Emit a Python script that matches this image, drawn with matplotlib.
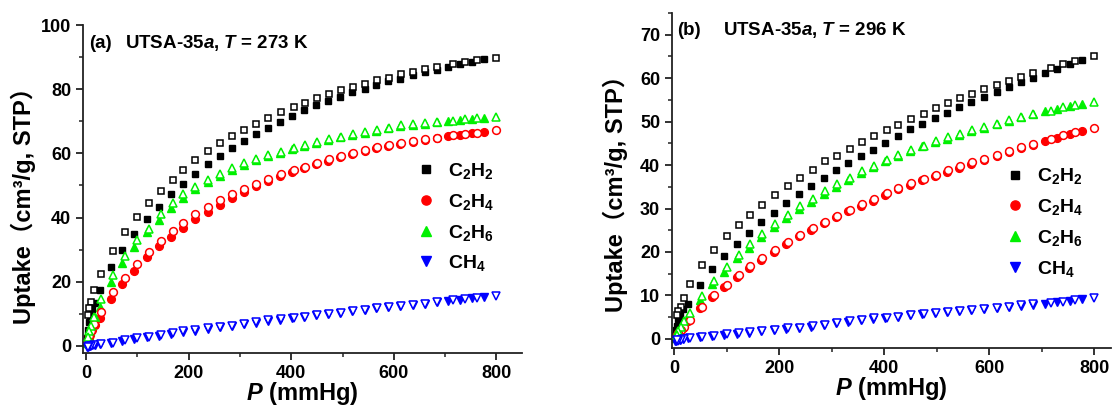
import matplotlib
matplotlib.use('Agg')
import matplotlib.pyplot as plt
from matplotlib.ticker import MultipleLocator
from matplotlib.lines import Line2D

plt.rcParams['font.family'] = ['Liberation Sans', 'Noto Sans CJK SC', 'DejaVu Sans']
plt.rcParams['font.weight'] = 'bold'
plt.rcParams['mathtext.fontset'] = 'custom'
plt.rcParams['mathtext.rm'] = 'Liberation Sans:bold'
plt.rcParams['mathtext.it'] = 'Liberation Sans:bold:italic'
plt.rcParams['mathtext.bf'] = 'Liberation Sans:bold'
plt.rcParams['mathtext.default'] = 'rm'

# ---------------- data: panel (a), 273 K ----------------
p_ads_a = [1, 3, 5, 8, 12, 17, 27, 49, 71, 94, 118, 142, 166, 189, 212, 237, 261, 285, 308,
           332, 355, 378, 402, 425, 449, 472, 496, 519, 543, 566, 589, 613, 637, 660, 684,
           706, 730, 752, 776]
p_des_a = [800, 762, 739, 716, 684, 661, 637, 614, 590, 567, 543, 520, 497, 473, 450, 427,
           405, 381, 355, 332, 308, 285, 261, 237, 212, 189, 170, 146, 123, 99, 76, 53, 29,
           16, 10, 6.5, 3.3]

c2h2_ads_a = [2.5, 5, 7.5, 9.5, 11.5, 13.5, 17.3, 24.5, 30, 35, 39.7, 43.3, 47.2, 50.5, 53.6,
              56.6, 59.2, 61.6, 63.8, 66.1, 68, 69.9, 71.7, 73.4, 75, 76.3, 77.7, 79, 80.2,
              81.3, 82.4, 83.3, 84.4, 85.2, 86, 87, 87.8, 88.5, 89.3]
c2h2_des_a = [89.8, 89.0, 88.4, 87.8, 86.9, 86.2, 85.4, 84.6, 83.6, 82.8, 81.7, 80.7, 79.7,
              78.4, 77.2, 75.8, 74.5, 72.9, 71.1, 69.3, 67.3, 65.4, 63.1, 60.7, 57.8, 54.7,
              51.8, 48.4, 44.6, 40.2, 35.4, 29.7, 22.5, 17.3, 13.8, 11.7, 9.7]
c2h4_ads_a = [0.5, 1.5, 2.5, 3.5, 5, 6.5, 8.8, 14.7, 19.4, 23.5, 27.6, 31, 34, 36.8, 39.5,
              41.8, 44, 46.2, 48, 49.7, 51.3, 52.8, 54.2, 55.4, 56.6, 57.7, 58.8, 59.8, 60.6,
              61.6, 62.3, 63.0, 63.6, 64.2, 64.8, 65.4, 65.8, 66.2, 66.6]
c2h4_des_a = [67.2, 66.4, 66.1, 65.7, 64.9, 64.4, 63.8, 63.2, 62.6, 62.0, 60.9, 60.2, 59.2,
              58.1, 57.0, 55.7, 54.7, 53.6, 51.9, 50.5, 48.9, 47.4, 45.4, 43.3, 41.0, 38.3,
              35.8, 32.8, 29.3, 25.6, 21.3, 16.7, 10.5, 6.8, 4.5, 3.0, 1.5]
c2h6_ads_a = [0.8, 2, 3, 4.5, 6.5, 9, 12, 19.8, 25.8, 30.8, 35.5, 39.3, 43, 46, 48.8, 51, 53,
              54.8, 56.4, 57.8, 59.2, 60.2, 61.3, 62.3, 63.3, 64.1, 65, 65.7, 66.5, 67.1, 67.8,
              68.4, 68.9, 69.3, 69.7, 70.0, 70.4, 70.7, 71.0]
c2h6_des_a = [71.4, 70.9, 70.6, 70.2, 69.8, 69.4, 69.0, 68.7, 68.0, 67.3, 66.8, 65.9, 65.2,
              64.4, 63.6, 62.6, 61.6, 60.5, 59.6, 58.4, 57.0, 55.5, 53.7, 51.8, 49.6, 47.3,
              44.6, 41.2, 36.5, 33.0, 28.0, 22.0, 14.6, 9.0, 6.3, 4.5, 2.9]
ch4_ads_a = [-0.3, -0.2, 0, 0.1, 0.2, 0.3, 0.5, 0.9, 1.5, 2.2, 2.7, 3.2, 3.8, 4.3, 4.8, 5.4,
             5.8, 6.2, 6.7, 7.2, 7.7, 8.1, 8.6, 9.0, 9.5, 9.9, 10.3, 10.8, 11.2, 11.7, 12.1,
             12.4, 12.8, 13.2, 13.6, 14.0, 14.4, 14.8, 15.2]
ch4_des_a = [15.6, 15.0, 14.6, 14.2, 13.6, 13.2, 12.8, 12.5, 12.2, 11.8, 11.35, 10.9, 10.4,
             10.0, 9.6, 9.1, 8.75, 8.3, 8.0, 7.4, 6.9, 6.35, 6.0, 5.6, 5.0, 4.5, 4.0, 3.4,
             2.9, 2.4, 1.7, 0.9, 0.5, 0.3, 0.1, 0.0, -0.2]

# ---------------- data: panel (b), 296 K ----------------
p_ads_b = [1, 3, 5, 8, 12, 17, 26, 49, 72, 95, 119, 143, 166, 191, 214, 238, 261, 285, 309,
           332, 356, 378, 402, 426, 449, 473, 497, 519, 542, 566, 590, 614, 637, 660, 683,
           706, 730, 754, 777]
p_des_b = [800, 763, 741, 718, 684, 661, 638, 615, 591, 568, 544, 521, 498, 475, 451, 427,
           405, 381, 358, 335, 311, 288, 264, 240, 217, 193, 168, 145, 123, 100, 76, 54, 30,
           19, 13, 8, 5]

c2h2_ads_b = [1, 2, 3, 4.5, 5.5, 6.8, 8.1, 12.4, 16.1, 19.1, 21.8, 24.4, 26.8, 29, 31.3, 33.4,
              35.25, 37.1, 38.8, 40.5, 42, 43.5, 45.1, 46.6, 48.2, 49.5, 50.8, 52.1, 53.4,
              54.5, 55.7, 56.8, 58, 59.1, 60.1, 61.2, 62.2, 63.3, 64.2]
c2h2_des_b = [65.0, 64.0, 63.3, 62.4, 61.2, 60.3, 59.4, 58.5, 57.5, 56.4, 55.4, 54.2, 53.1,
              51.8, 50.7, 49.3, 48.0, 46.6, 45.2, 43.8, 42.2, 40.9, 38.9, 37.0, 35.1, 33.0,
              30.9, 28.6, 26.1, 23.6, 20.4, 16.9, 12.6, 9.4, 7.4, 6.5, 5.5]
c2h4_ads_b = [0.2, 0.5, 0.8, 1.2, 1.8, 2.6, 4.0, 7.0, 9.6, 11.9, 14.2, 16.3, 18.2, 20.1, 21.9,
              23.6, 25.1, 26.6, 28.0, 29.4, 30.6, 31.8, 33.2, 34.4, 35.5, 36.5, 37.5, 38.5,
              39.4, 40.3, 41.2, 42.1, 43.0, 43.9, 44.7, 45.5, 46.3, 47.1, 47.8]
c2h4_des_b = [48.5, 47.6, 47.0, 46.0, 44.9, 44.2, 43.3, 42.4, 41.5, 40.6, 39.7, 38.8, 37.8,
              36.8, 35.9, 34.7, 33.6, 32.2, 31.0, 29.7, 28.3, 27.0, 25.5, 24.0, 22.3, 20.5,
              18.6, 16.7, 14.6, 12.3, 10.0, 7.4, 4.4, 2.8, 2.0, 1.3, 0.8]
c2h6_ads_b = [0.2, 0.6, 1.0, 1.5, 2.2, 3.2, 5.2, 9.0, 12.6, 15.5, 18.5, 21.0, 23.4, 25.7, 27.8,
              29.8, 31.6, 33.3, 35.0, 36.6, 38.1, 39.5, 40.9, 42.1, 43.2, 44.3, 45.2, 46.1,
              47.0, 47.8, 48.6, 49.4, 50.2, 51.0, 51.7, 52.4, 53.0, 53.6, 54.1]
c2h6_des_b = [54.5, 53.8, 53.4, 52.5, 51.8, 51.1, 50.3, 49.5, 48.7, 48.0, 47.2, 46.4, 45.5,
              44.5, 43.5, 42.4, 41.2, 39.9, 38.6, 37.0, 35.6, 34.0, 32.2, 30.5, 28.6, 26.5,
              24.2, 21.8, 19.4, 16.5, 13.4, 9.9, 6.0, 4.0, 2.8, 1.8, 1.0]
ch4_ads_b = [-0.5, -0.4, -0.3, -0.3, -0.2, -0.1, 0.1, 0.4, 0.7, 1.0, 1.2, 1.4, 1.7, 2.0, 2.3,
             2.6, 2.8, 3.2, 3.6, 3.9, 4.3, 4.6, 4.8, 5.0, 5.4, 5.7, 6.0, 6.2, 6.4, 6.6, 6.8,
             7.0, 7.3, 7.6, 7.9, 8.1, 8.4, 8.8, 9.1]
ch4_des_b = [9.5, 8.9, 8.6, 8.2, 8.0, 7.7, 7.45, 7.1, 6.9, 6.7, 6.5, 6.3, 6.06, 5.76, 5.45,
             5.1, 4.9, 4.7, 4.4, 4.0, 3.76, 3.3, 2.9, 2.6, 2.5, 2.1, 1.8, 1.5, 1.3, 1.1, 0.7,
             0.4, 0.15, -0.1, -0.3, -0.4, -0.3]

gas_labels = ['C$_2$H$_2$', 'C$_2$H$_4$', 'C$_2$H$_6$', 'CH$_4$']
gas_colors = ['#000000', '#ff0000', '#00f000', '#0000ff']
gas_markers = ['s', 'o', '^', 'v']
gas_ms = [5.0, 5.6, 6.0, 6.0]

panels = [
    dict(p_ads=p_ads_a, p_des=p_des_a,
         ads=[c2h2_ads_a, c2h4_ads_a, c2h6_ads_a, ch4_ads_a],
         des=[c2h2_des_a, c2h4_des_a, c2h6_des_a, ch4_des_a],
         tag='(a)', title='UTSA-35$\\mathit{a}$, $\\mathit{T}$ = 273 K',
         ylim=(-2.2, 100), xlim=(-6, 850), ymajor=20, yminor=10),
    dict(p_ads=p_ads_b, p_des=p_des_b,
         ads=[c2h2_ads_b, c2h4_ads_b, c2h6_ads_b, ch4_ads_b],
         des=[c2h2_des_b, c2h4_des_b, c2h6_des_b, ch4_des_b],
         tag='(b)', title='UTSA-35$\\mathit{a}$, $\\mathit{T}$ = 296 K',
         ylim=(-2.1, 75), xlim=(-4, 832), ymajor=10, yminor=5),
]

W, H = 1113, 408
fig = plt.figure(figsize=(W / 100, H / 100), dpi=100)
rects = [(83, 25, 522, 353), (672, 13, 1111, 348)]
tag_pos = [(0.014, 0.945, 0.096), (0.012, 0.949, 0.116)]
leg_pos = [(0.763, 0.585), (0.763, 0.542)]
ylab_pos = [(-0.107, 0.466), (-0.100, 0.478)]

for k, (pn, (l, t, r, b)) in enumerate(zip(panels, rects)):
    ax = fig.add_axes([l / W, 1 - b / H, (r - l) / W, (b - t) / H])
    for i in range(4):
        ax.plot(pn['p_ads'], pn['ads'][i], ls='none', marker=gas_markers[i],
                ms=gas_ms[i], color=gas_colors[i], mec=gas_colors[i], zorder=2)
    for i in range(4):
        ax.plot(pn['p_des'], pn['des'][i], ls='none', marker=gas_markers[i],
                ms=gas_ms[i], mfc='white', mec=gas_colors[i], mew=1.1, zorder=3)
    ax.set_xlim(*pn['xlim'])
    ax.set_ylim(*pn['ylim'])
    ax.xaxis.set_major_locator(MultipleLocator(200))
    ax.xaxis.set_minor_locator(MultipleLocator(100))
    ax.yaxis.set_major_locator(MultipleLocator(pn['ymajor']))
    ax.yaxis.set_minor_locator(MultipleLocator(pn['yminor']))
    for s in ['top', 'right']:
        ax.spines[s].set_visible(False)
    for s in ['left', 'bottom']:
        ax.spines[s].set_linewidth(1.3)
        ax.spines[s].set_color('#222222')
    ax.tick_params(which='major', direction='out', length=5, width=1.3,
                   labelsize=13, color='#222222')
    ax.tick_params(which='minor', direction='out', length=3, width=1.1, color='#222222')
    for lab in ax.get_xticklabels() + ax.get_yticklabels():
        lab.set_fontweight('bold')
    ax.set_xlabel('$\\mathit{P}$ (mmHg)', fontsize=17, fontweight='bold', labelpad=-1)
    ax.set_ylabel('Uptake（cm³/g, STP）', fontsize=17, fontweight='bold')
    ax.yaxis.set_label_coords(*ylab_pos[k])
    tx, ty, tx2 = tag_pos[k]
    ax.text(tx, ty, pn['tag'], transform=ax.transAxes, fontsize=13.5,
            fontweight='bold', va='center', ha='left')
    ax.text(tx2, ty, pn['title'], transform=ax.transAxes, fontsize=13.5,
            fontweight='bold', va='center', ha='left')
    handles = [Line2D([], [], ls='none', marker=gas_markers[i], ms=gas_ms[i] + 1,
                      color=gas_colors[i]) for i in range(4)]
    lx, ly = leg_pos[k]
    ax.legend(handles, gas_labels, loc='upper left', bbox_to_anchor=(lx, ly),
              frameon=False, prop=dict(size=14, weight='bold'), handlelength=0.8,
              handletextpad=0.75, labelspacing=0.55, borderpad=0, borderaxespad=0)

fig.savefig('out.png', dpi=100)
